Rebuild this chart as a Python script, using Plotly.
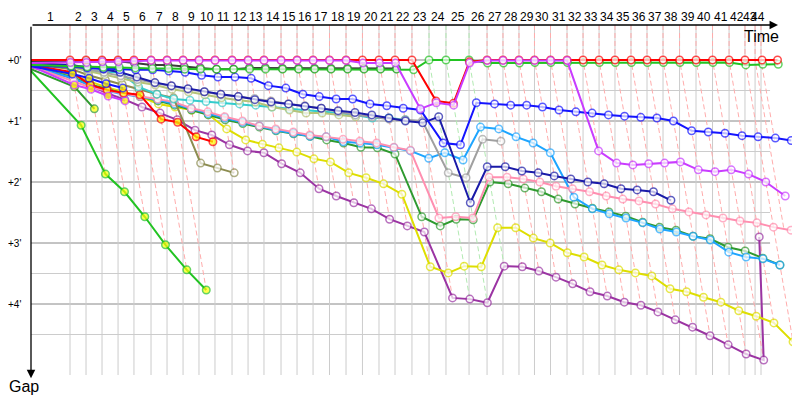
import plotly.graph_objects as go

# leader reference time (minutes) at the end of each lap 1..44, used to place the car points
lap_ref = [3.75, 5.29, 6.83, 8.37, 9.90, 11.54, 13.08, 14.62, 16.15, 17.69,
           19.33, 20.87, 22.40, 24.04, 25.58, 27.12, 28.70, 30.29, 31.87, 33.46,
           35.00, 36.63, 38.27, 39.90, 42.12, 43.85, 45.38, 46.92, 48.41, 49.95,
           51.54, 53.08, 54.62, 56.15, 57.69, 59.23, 60.77, 62.36, 63.94, 65.53,
           67.12, 68.65, 70.29, 71.78]
# lap marks drawn on the time axis (last two differ from the points)
lap_marks = lap_ref[:42] + [69.62, 70.19]
lap_labels = [str(i) for i in range(1, 45)]
gap_ticks = [0, 1, 2, 3, 4]
gap_half = [0.5, 1.5, 2.5, 3.5, 4.5]

# gaps to the leader (minutes), index 0 = start, then lap 1, 2, ...
red1 = [0] * 23 + [0.67, 0.71, 0.03] + [0] * 19
mag1 = [0.05, 0.04, 0.04, 0.03, 0.03, 0.02] + [0.01] * 13 + [0.05, 0.05, 0.05, 0.80, 0.70, 0.74, 0.05] + [0.01] * 6 + \
       [1.49, 1.69, 1.72, 1.70, 1.69, 1.67, 1.80, 1.83, 1.80, 1.87, 2.00, 2.23]
green1 = [0.08, 0.10, 0.11, 0.12, 0.12, 0.13, 0.14, 0.14, 0.15, 0.15, 0.15, 0.15, 0.15, 0.15] + [0.15] * 8 + \
         [0.16, 0, 0, 0, 0.05, 0.05, 0.05] + [0.04] * 13 + [0.08, 0.07, 0.07]
dkgray = [0.03, 0.03, 0.02, 0.02, 0.02, 0.05, 0.08, 0.08, 0.11, 0.13, 0.15, 0.15, 0.13, 0.13] + [0.14] * 8
blue1 = [0.10, 0.11, 0.13, 0.14, 0.16, 0.16, 0.16, 0.18, 0.20, 0.25, 0.28, 0.28, 0.30, 0.42, 0.46, 0.56,
         0.60, 0.64, 0.64, 0.72, 0.75, 0.79, 0.82, 1.36, 1.39, 0.70, 0.72, 0.74, 0.74, 0.77, 0.82, 0.85,
         0.87, 0.90, 0.92, 0.94, 0.95, 1.00, 1.16, 1.18, 1.20, 1.24, 1.26, 1.28, 1.32]
blue2 = [0.10, 0.23, 0.30, 0.39, 0.46]
navy = [0.05, 0.08, 0.12, 0.15, 0.20, 0.28, 0.37, 0.42, 0.47, 0.52, 0.56, 0.60, 0.65, 0.69, 0.72, 0.76,
        0.79, 0.83, 0.86, 0.90, 0.95, 1.00, 1.03, 0.93, 2.34, 1.75, 1.75, 1.82, 1.85, 1.90, 1.95, 2.00,
        2.03, 2.11, 2.13, 2.16, 2.30]
gray = [0.05, 0.10, 0.15, 0.20, 0.26, 0.32, 0.38, 0.43, 0.48, 0.52, 0.57, 0.60, 0.63, 0.67, 0.72, 0.75,
        0.79, 0.85, 0.90, 0.93, 0.97, 0.98, 1.00, 1.85, 1.93, 1.30, 1.33]
olivegreen = [0.05, 0.12, 0.18, 0.24, 0.30, 0.36, 0.41, 0.48, 0.52, 0.57, 0.62, 0.66, 0.69, 0.77, 0.82,
              0.87, 0.87, 0.90, 0.93]
cyan = [0.05, 0.12, 0.15, 0.20, 0.20, 0.44, 0.56, 0.64, 0.66, 0.68, 0.70, 0.72, 0.74, 0.77, 0.80, 0.82,
        0.84, 0.87, 0.90, 0.95, 0.95, 0.98]
olive = [0.06, 0.15, 0.25, 0.33, 0.40, 0.48, 0.56, 0.62, 1.69, 1.77, 1.85]
pink = [0.10, 0.35, 0.45, 0.50, 0.55, 0.60, 0.64, 0.69, 0.79, 0.85, 0.93, 1.00, 1.08, 1.13, 1.18, 1.23,
        1.26, 1.30, 1.33, 1.36, 1.43, 1.48, 2.59, 2.57, 2.59, 1.92, 1.92, 1.95, 2.00, 2.07, 2.11, 2.16,
        2.23, 2.28, 2.31, 2.36, 2.44, 2.49, 2.54, 2.59, 2.64, 2.67, 2.74, 2.79]
lightblue = [0.10, 0.30, 0.42, 0.51, 0.56, 0.60, 0.65, 0.72, 0.80, 0.88, 0.95, 1.02, 1.08, 1.15, 1.20,
             1.25, 1.26, 1.34, 1.36, 1.39, 1.44, 1.49, 1.61, 1.52, 1.64, 1.10, 1.13, 1.26, 1.36, 1.52,
             2.25, 2.44, 2.52, 2.59, 2.67, 2.77, 2.82, 2.89, 2.95, 3.15, 3.23, 3.26, 3.36]
dkgreen1 = [0.10, 0.28, 0.40, 0.48, 0.55, 0.60, 0.67, 0.74, 0.82, 0.90, 0.98, 1.04, 1.10, 1.16, 1.21,
            1.25, 1.31, 1.36, 1.43, 1.44, 1.54, 2.57, 2.72, 2.61, 2.62, 2.00, 2.03, 2.10, 2.16, 2.28,
            2.36, 2.43, 2.49, 2.56, 2.66, 2.74, 2.79, 2.89, 2.93, 3.07, 3.13, 3.25, 3.36]
dkgreen2 = [0.15, 0.44, 0.80]
green2 = [0.18, 1.07, 1.87, 2.16, 2.57, 3.03, 3.44, 3.77]
red2 = [0.08, 0.20, 0.41, 0.49, 0.54, 0.57, 0.97, 1.02, 1.26, 1.34]
mag2 = [0.10, 0.41, 0.48, 0.59, 0.67]
yellow = [0.08, 0.25, 0.35, 0.45, 0.52, 0.60, 0.72, 0.77, 0.82, 0.89, 1.13, 1.31, 1.38, 1.44, 1.51, 1.62,
          1.67, 1.85, 1.93, 2.03, 2.20, 3.39, 3.49, 3.38, 3.39, 2.75, 2.75, 2.92, 3.00, 3.16, 3.23, 3.36,
          3.44, 3.49, 3.54, 3.75, 3.80, 3.89, 3.97, 4.11, 4.20, 4.31, 4.62]
purple = [0.12, 0.30, 0.42, 0.55, 0.65, 0.77, 0.87, 0.98, 1.15, 1.23, 1.39, 1.49, 1.52, 1.70, 1.85, 2.11,
          2.23, 2.34, 2.44, 2.61, 2.72, 2.82, 3.90, 3.92, 3.98, 3.38, 3.39, 3.46, 3.56, 3.67, 3.80, 3.87,
          3.97, 4.02, 4.13, 4.26, 4.38, 4.52, 4.67, 4.82, 4.92, 2.90]

# drawing order: first drawn is at the bottom
cars = [
    (purple, '#9b34a3', 'white'), (yellow, '#dede00', 'white'), (green2, '#22c322', '#ffff00'),
    (dkgreen2, '#2f9a2f', '#ffff00'), (dkgreen1, '#2f9a2f', 'white'), (lightblue, '#1ea5ff', 'white'),
    (pink, '#ff8fb0', 'white'), (olive, '#8c8c50', 'white'), (red2, '#ff0000', '#ffff00'),
    (mag2, '#c93cff', '#ffff00'), (cyan, '#33cccc', 'white'), (olivegreen, '#b4c47a', 'white'),
    (gray, '#a0a0a0', 'white'), (navy, '#1a1aa8', 'white'), (blue2, '#1414ff', '#ffff00'),
    (blue1, '#1414ff', 'white'), (dkgray, '#3c3c3c', 'white'), (green1, '#22c322', 'white'),
    (red1, '#ff0000', 'white'), (mag1, '#c93cff', 'white'),
]
ymin, ymax = -0.574, 5.164
xmax = 73.94

fig = go.Figure()

# slanted lap lines: car time = leader time + gap
all_gaps = [c[0] for c in cars]
for n in range(1, 45):
    gmax = max(g[n] for g in all_gaps if len(g) > n)
    leader_green = green1[n] == 0 and red1[n] > 0
    col = '#b2eab2' if leader_green else '#ffacac'
    t = lap_marks[n - 1]
    fig.add_trace(go.Scatter(x=[t, t, t + gmax], y=[ymin, 0, gmax], mode='lines',
                             line=dict(color=col, width=1, dash='5px,3px'),
                             hoverinfo='skip', showlegend=False))

for gaps, color, fill in cars:
    xs = [0] + [lap_ref[i - 1] + gaps[i] for i in range(1, len(gaps))]
    fig.add_trace(go.Scatter(
        x=xs, y=gaps, mode='lines+markers', showlegend=False,
        line=dict(color=color, width=2),
        # no marker at the start point
        marker=dict(size=[0] + [7.5] * (len(xs) - 1), color=fill,
                    line=dict(color=color, width=1.5)),
    ))

shapes = []
for g in gap_half:
    shapes.append(dict(type='line', xref='x', yref='y', x0=0, x1=71.06, y0=g, y1=g,
                       line=dict(color='#cccccc', width=1), layer='below'))
for g in gap_ticks:
    shapes.append(dict(type='line', xref='x', yref='y', x0=0, x1=71.06, y0=g, y1=g,
                       line=dict(color='#888888', width=1), layer='below'))
for t in lap_marks:
    shapes.append(dict(type='line', xref='x', yref='y', x0=t, x1=t, y0=ymin, y1=ymax,
                       line=dict(color='#cccccc', width=1), layer='below'))

annotations = []
prev = 0
for t, lab in zip(lap_marks, lap_labels):
    annotations.append(dict(x=(prev + t) / 2, xref='x', y=1.0229, yref='paper', text=lab,
                            xanchor='center', yanchor='middle', showarrow=False,
                            font=dict(family='Liberation Sans', size=12, color='black')))
    prev = t
for g in gap_ticks:
    annotations.append(dict(x=0, xref='paper', y=g, yref='y', text="+%d'" % g, xanchor='right',
                            yanchor='middle', xshift=-8, showarrow=False,
                            font=dict(family='Liberation Sans', size=10, color='black')))
# axes with arrows
annotations.append(dict(x=(778 - 31) / 769, xref='paper', y=1, yref='paper', ax=-747, ay=0,
                        axref='pixel', ayref='pixel', text='', showarrow=True, arrowhead=2,
                        arrowsize=1.3, arrowwidth=1.3, arrowcolor='black'))
annotations.append(dict(x=0, xref='paper', y=-0.009, yref='paper', ax=0, ay=-353,
                        axref='pixel', ayref='pixel', text='', showarrow=True, arrowhead=2,
                        arrowsize=1.3, arrowwidth=1.3, arrowcolor='black'))
annotations.append(dict(x=(761 - 31) / 769, xref='paper', y=(375 - 36) / 350, yref='paper',
                        text='Time', xanchor='center', yanchor='middle', showarrow=False,
                        font=dict(family='Liberation Sans', size=16, color='black')))
annotations.append(dict(x=(24 - 31) / 769, xref='paper', y=(375 - 386) / 350, yref='paper',
                        text='Gap', xanchor='center', yanchor='middle', showarrow=False,
                        font=dict(family='Liberation Sans', size=16, color='black')))

# the page adds an 8px body margin, so the figure is 8px smaller and shifted
fig.update_layout(
    width=792, height=392,
    margin=dict(l=23, r=0, t=17, b=25),
    paper_bgcolor='white', plot_bgcolor='white',
    font=dict(family='Liberation Sans', color='black'),
    xaxis=dict(range=[0, xmax], showgrid=False, zeroline=False, showticklabels=False,
               showline=False, fixedrange=True),
    yaxis=dict(range=[ymax, ymin], showgrid=False, zeroline=False, showticklabels=False,
               showline=False, fixedrange=True),
    shapes=shapes, annotations=annotations,
)

fig.write_html("out.html")
